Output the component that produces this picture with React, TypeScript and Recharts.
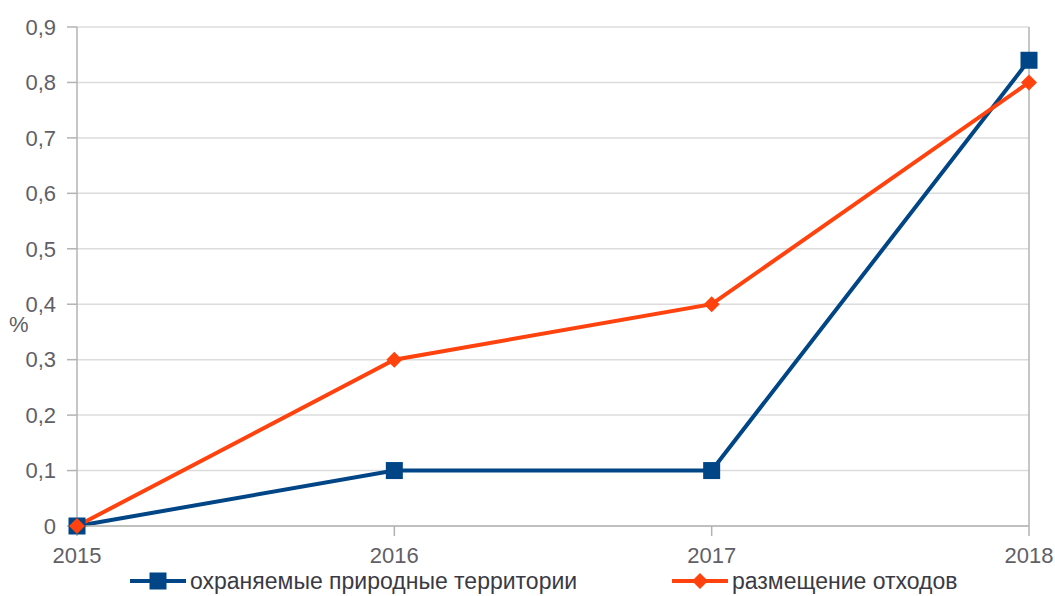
import React from 'react';
import { LineChart, Line, XAxis, YAxis, CartesianGrid, ReferenceLine } from 'recharts';

const years = [2015, 2016, 2017, 2018];
const protectedAreas = [0, 0.1, 0.1, 0.84];
const wastePlacement = [0, 0.3, 0.4, 0.8];
const yTicks = [0, 0.1, 0.2, 0.3, 0.4, 0.5, 0.6, 0.7, 0.8, 0.9];
const seriesNames = ['охраняемые природные территории', 'размещение отходов'];
const colors = ['#004586', '#ff420e'];

const data = years.map((y, i) => ({ year: y, a: protectedAreas[i], b: wastePlacement[i] }));

const font = '"Liberation Sans", Arial, sans-serif';

const Square = (props: any) => {
  const { cx, cy } = props;
  if (cx == null || cy == null) return null;
  return <rect x={cx - 8.5} y={cy - 8.5} width={17} height={17} fill={colors[0]} />;
};
const Diamond = (props: any) => {
  const { cx, cy } = props;
  if (cx == null || cy == null) return null;
  return <path d={`M${cx},${cy - 8}L${cx + 8},${cy}L${cx},${cy + 8}L${cx - 8},${cy}Z`} fill={colors[1]} />;
};

const fmt = (v: number) => (v === 0 ? '0' : v.toFixed(1).replace('.', ','));

export default function App() {
  return (
    <div style={{ position: 'absolute', left: 0, top: 0, width: 1055, height: 596, background: '#fff', fontFamily: font }}>
      <LineChart width={1055} height={596} data={data} margin={{ top: 27, right: 26, bottom: 40, left: 0 }}>
        <CartesianGrid vertical={false} stroke="#dcdcdc" strokeWidth={1.5} />
        <XAxis
          dataKey="year"
          type="number"
          domain={[2015, 2018]}
          ticks={years}
          stroke="#b3b3b3"
          strokeWidth={1.5}
          tickSize={10}
          tickMargin={11}
          tick={{ fill: '#5f5f66', fontSize: 22, fontFamily: font }}
          height={30}
        />
        <YAxis
          domain={[0, 0.9]}
          ticks={yTicks}
          tickFormatter={fmt}
          stroke="#b3b3b3"
          strokeWidth={1.5}
          tickSize={10}
          tickMargin={11}
          width={77}
          interval={0}
          tick={{ fill: '#5f5f66', fontSize: 22, fontFamily: font }}
          label={{ value: '%', position: 'insideLeft', angle: 0, dx: 4, dy: 48, fill: '#5f5f66', fontSize: 22, fontFamily: font }}
        />
        <ReferenceLine x={2018} stroke="#b3b3b3" strokeWidth={1.5} />
        <Line dataKey="a" stroke={colors[0]} strokeWidth={4} dot={<Square />} isAnimationActive={false} />
        <Line dataKey="b" stroke={colors[1]} strokeWidth={4} dot={<Diamond />} isAnimationActive={false} />
      </LineChart>
      {seriesNames.map((name, i) => (
        <div
          key={name}
          style={{
            position: 'absolute',
            top: 566,
            left: i === 0 ? 130 : 672,
            display: 'flex',
            alignItems: 'center',
            fontSize: 23,
            color: '#3a3a44',
            whiteSpace: 'nowrap',
          }}
        >
          <svg width={56} height={30} style={{ marginRight: 4 }}>
            <line x1={0} y1={15} x2={56} y2={15} stroke={colors[i]} strokeWidth={4} />
            {i === 0 ? (
              <rect x={19.5} y={6.5} width={17} height={17} fill={colors[0]} />
            ) : (
              <path d="M28,7L36,15L28,23L20,15Z" fill={colors[1]} />
            )}
          </svg>
          <span>{name}</span>
        </div>
      ))}
    </div>
  );
}
